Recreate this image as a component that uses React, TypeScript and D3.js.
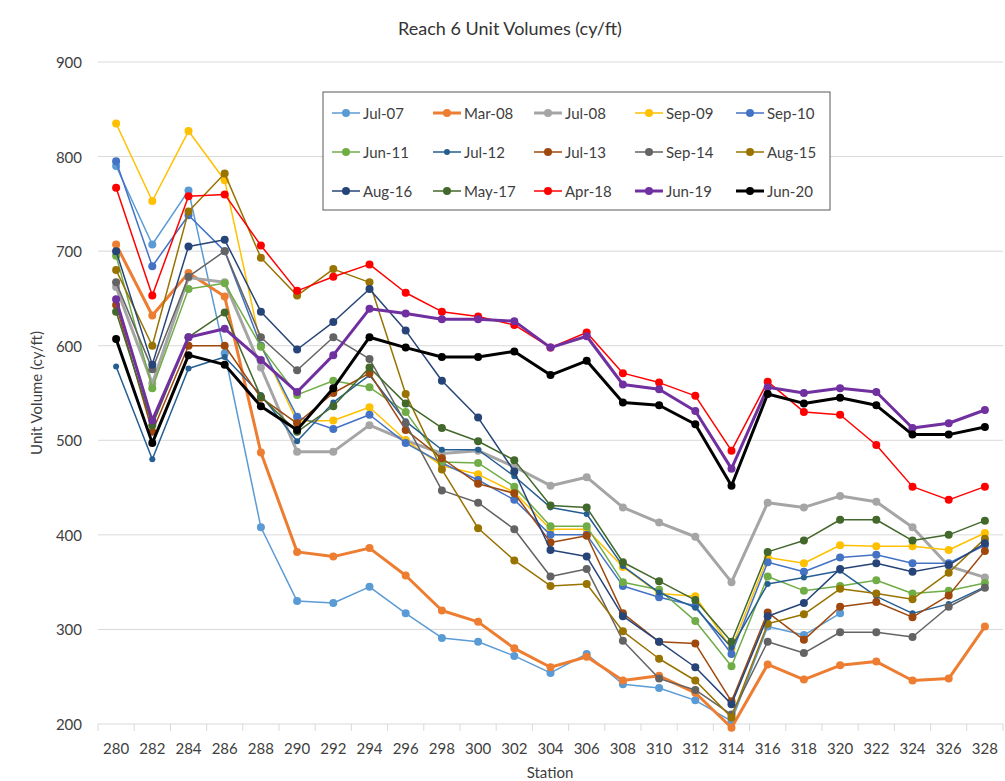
import * as d3 from "d3";

// stations along the reach
const stations = [280, 282, 284, 286, 288, 290, 292, 294, 296, 298, 300, 302, 304, 306, 308, 310, 312, 314, 316, 318, 320, 322, 324, 326, 328];
const yTicks = [200, 300, 400, 500, 600, 700, 800, 900];

// unit volumes (cy/ft) per survey
const jul07 = [790, 707, 764, 592, 408, 330, 328, 345, 317, 291, 287, 272, 254, 274, 242, 238, 225, 203, 303, 294, 317, null, null, null, null];
const mar08 = [707, 632, 677, 652, 487, 382, 377, 386, 357, 320, 308, 280, 260, 271, 246, 251, 233, 196, 263, 247, 262, 266, 246, 248, 303];
const jul08 = [662, 560, 672, 667, 577, 488, 488, 516, 500, 486, 489, 472, 452, 461, 429, 413, 398, 350, 434, 429, 441, 435, 408, 367, 355];
const sep09 = [835, 753, 827, 775, 600, 520, 521, 535, 500, 473, 464, 445, 406, 406, 366, 338, 335, 280, 376, 370, 389, 388, 388, 384, 402];
const sep10 = [795, 684, 738, 700, 600, 525, 512, 527, 497, 476, 458, 437, 400, 400, 346, 334, 325, 274, 371, 361, 376, 379, 370, 370, 389];
const jun11 = [695, 555, 660, 666, 599, 548, 563, 556, 530, 477, 476, 451, 409, 409, 350, 342, 309, 261, 356, 341, 346, 352, 338, 341, 349];
const jul12 = [578, 480, 576, 588, 548, 499, 540, 569, 520, 490, 490, 462, 429, 422, 367, 339, 323, 281, 348, 355, 362, 335, 317, 327, 345];
const jul13 = [643, 509, 600, 600, 545, 518, 550, 571, 511, 481, 454, 444, 392, 399, 317, 287, 285, 224, 318, 289, 324, 329, 313, 336, 383];
const sep14 = [667, 575, 673, 700, 609, 574, 609, 586, 518, 447, 434, 406, 356, 364, 288, 248, 236, 210, 287, 275, 297, 297, 292, 324, 344];
const aug15 = [680, 600, 742, 782, 693, 653, 681, 667, 549, 469, 407, 373, 346, 348, 298, 269, 246, 207, 306, 316, 343, 338, 332, 360, 396];
const aug16 = [700, 580, 705, 712, 636, 596, 625, 660, 616, 563, 524, 467, 384, 377, 314, 287, 260, 221, 314, 328, 364, 370, 361, 368, 391];
const may17 = [636, 516, 609, 635, 546, 509, 536, 577, 539, 513, 499, 479, 431, 429, 371, 351, 331, 287, 382, 394, 416, 416, 394, 400, 415];
const apr18 = [767, 653, 758, 760, 706, 658, 673, 686, 656, 636, 631, 622, 598, 614, 571, 561, 547, 489, 562, 530, 527, 495, 451, 437, 451];
const jun19 = [649, 521, 609, 618, 585, 551, 590, 639, 634, 628, 628, 626, 598, 610, 559, 554, 531, 470, 556, 550, 555, 551, 513, 518, 532];
const jun20 = [607, 497, 590, 580, 536, 511, 555, 609, 598, 588, 588, 594, 569, 584, 540, 537, 517, 452, 549, 539, 545, 537, 506, 506, 514];

const series = [
  { name: "Jul-07", values: jul07, color: "#5B9BD5", width: 1.5, r: 4 },
  { name: "Mar-08", values: mar08, color: "#ED7D31", width: 3, r: 4 },
  { name: "Jul-08", values: jul08, color: "#A5A5A5", width: 3, r: 4 },
  { name: "Sep-09", values: sep09, color: "#FFC000", width: 1.5, r: 4 },
  { name: "Sep-10", values: sep10, color: "#4472C4", width: 1.5, r: 4 },
  { name: "Jun-11", values: jun11, color: "#70AD47", width: 1.5, r: 4 },
  { name: "Jul-12", values: jul12, color: "#255E91", width: 1.5, r: 3 },
  { name: "Jul-13", values: jul13, color: "#9E480E", width: 1.5, r: 4 },
  { name: "Sep-14", values: sep14, color: "#636363", width: 1.5, r: 4 },
  { name: "Aug-15", values: aug15, color: "#997300", width: 1.5, r: 4 },
  { name: "Aug-16", values: aug16, color: "#264478", width: 1.5, r: 4 },
  { name: "May-17", values: may17, color: "#43682B", width: 1.5, r: 4 },
  { name: "Apr-18", values: apr18, color: "#FF0000", width: 1.5, r: 4 },
  { name: "Jun-19", values: jun19, color: "#7030A0", width: 3, r: 4 },
  { name: "Jun-20", values: jun20, color: "#000000", width: 3, r: 4 },
];

const W = 1005;
const H = 781;
const FONT = "Lato, 'Noto Sans', sans-serif";
const TXT = "#404040";

const App = () => {
  const x = d3
    .scaleBand<number>()
    .domain(stations)
    .range([98, 1003]);
  const y = d3.scaleLinear().domain([200, 900]).range([724, 62]);
  const cx = (s: number) => (x(s) ?? 0) + x.bandwidth() / 2;

  const line = d3
    .line<number | null>()
    .defined((d) => d !== null)
    .x((_, i) => cx(stations[i]))
    .y((d) => y(d as number));

  // tick marks sit between categories
  const bounds = [...stations.map((s) => x(s) ?? 0), 1003];

  return (
    <svg width={W} height={H} style={{ position: "absolute", left: 0, top: 0 }} fontFamily={FONT}>
      <rect x={0} y={0} width={W} height={H} fill="#fff" />
      <text x={510} y={35} textAnchor="middle" fontSize={18} fill="#333">
        Reach 6 Unit Volumes (cy/ft)
      </text>

      {yTicks.map((t) => (
        <g key={t}>
          <line x1={98} x2={1003} y1={y(t)} y2={y(t)} stroke="#D9D9D9" strokeWidth={1} />
          <text x={82} y={y(t)} textAnchor="end" dominantBaseline="central" fontSize={15} fill={TXT}>
            {t}
          </text>
        </g>
      ))}

      {bounds.map((b, i) => (
        <line key={i} x1={b} x2={b} y1={724} y2={731} stroke="#D9D9D9" />
      ))}
      {stations.map((s) => (
        <text key={s} x={cx(s)} y={748} textAnchor="middle" dominantBaseline="central" fontSize={15} fill={TXT}>
          {s}
        </text>
      ))}

      <text x={550} y={772} textAnchor="middle" dominantBaseline="central" fontSize={15} fill={TXT}>
        Station
      </text>
      <text
        transform={`translate(36, 393) rotate(-90)`}
        textAnchor="middle"
        dominantBaseline="central"
        fontSize={15}
        fill={TXT}
      >
        Unit Volume (cy/ft)
      </text>

      {series.map((s) => (
        <g key={s.name}>
          <path d={line(s.values) ?? ""} fill="none" stroke={s.color} strokeWidth={s.width} strokeLinejoin="round" />
          {s.values.map((v, i) =>
            v === null ? null : (
              <circle key={i} cx={cx(stations[i])} cy={y(v)} r={s.r} fill={s.color} />
            )
          )}
        </g>
      ))}

      {/* legend */}
      <g>
        <rect x={323} y={92} width={507} height={118} fill="#fff" stroke="#595959" strokeWidth={1} />
        {series.map((s, i) => {
          const col = i % 5;
          const row = Math.floor(i / 5);
          const lx = 332 + col * 101;
          const ly = 113 + row * 39;
          return (
            <g key={s.name}>
              <line x1={lx} x2={lx + 28} y1={ly} y2={ly} stroke={s.color} strokeWidth={s.width} />
              <circle cx={lx + 14} cy={ly} r={s.r} fill={s.color} />
              <text x={lx + 31} y={ly} dominantBaseline="central" fontSize={15} fill={TXT}>
                {s.name}
              </text>
            </g>
          );
        })}
      </g>
    </svg>
  );
};

export default App;
